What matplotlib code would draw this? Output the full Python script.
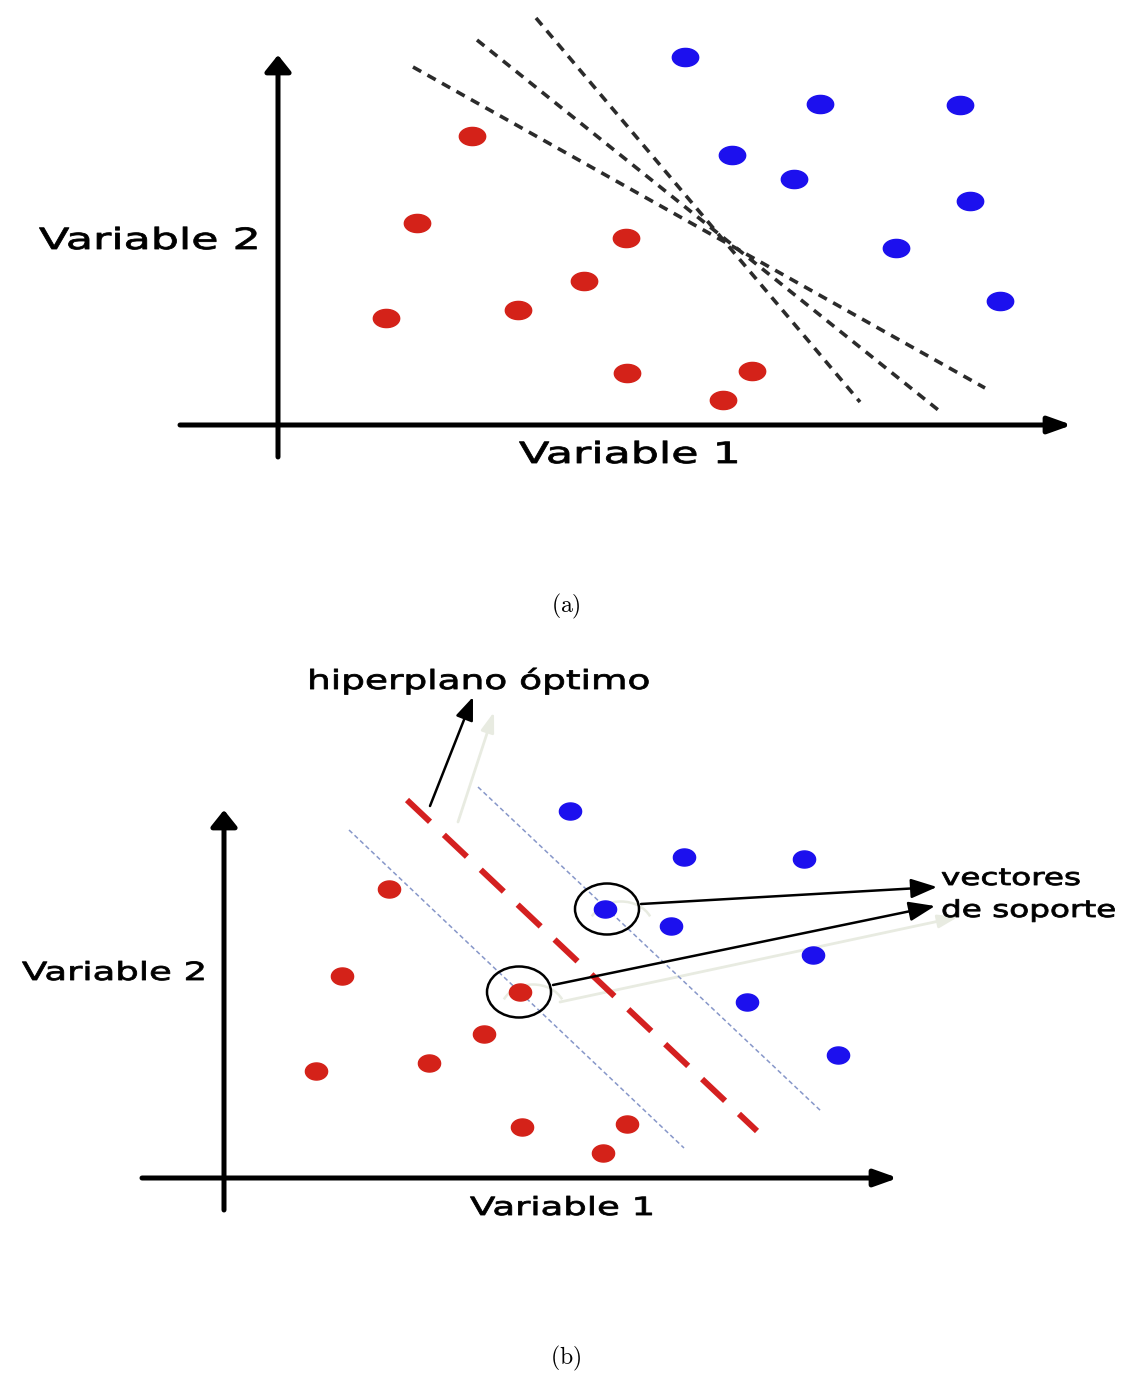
import matplotlib
matplotlib.use("Agg")
import matplotlib.pyplot as plt
from matplotlib.patches import Ellipse, Arc
from matplotlib.path import Path
from matplotlib.patheffects import AbstractPathEffect
from matplotlib.transforms import Affine2D
import numpy as np

plt.rcParams['font.family'] = ['DejaVu Sans']
plt.rcParams['mathtext.fontset'] = 'cm'

# ---- panel (a): several candidate separating lines ----
a_red_x = [472, 417, 626, 584, 386, 518, 627, 752, 723]
a_red_y = [136, 223, 238, 281, 318, 310, 373, 371, 400]
a_blue_x = [685, 820, 960, 732, 794, 970, 896, 1000]
a_blue_y = [57, 104, 105, 155, 179, 201, 248, 301]
a_lines_x = [[413, 985], [477, 942], [536, 860]]
a_lines_y = [[67, 388], [40, 413], [18, 402]]

# ---- panel (b): optimal hyperplane and support vectors ----
b_red_x = [389, 342, 520, 484, 316, 429, 522, 627, 603]
b_red_y = [889, 976, 992, 1034, 1071, 1063, 1127, 1124, 1153]
b_blue_x = [570, 684, 804, 605, 671, 813, 747, 838]
b_blue_y = [811, 857, 859, 909, 926, 955, 1002, 1055]
b_plane_x = [407, 757]
b_plane_y = [800, 1131]
b_margin_x = [[349, 684], [478, 822]]
b_margin_y = [[830, 1148], [787, 1112]]
b_sv_x = [607, 519]
b_sv_y = [909, 992]

labels = ["Variable 1", "Variable 2"]
captions = ["(a)", "(b)"]


class Stretch(AbstractPathEffect):
    # the source picture was stretched sideways, lettering included;
    # a thin stroke gives the slightly heavy look of the blurred original
    def __init__(self, sx, lw=0.6):
        super().__init__()
        self.sx = sx
        self.lw = lw

    def draw_path(self, renderer, gc, tpath, affine, rgbFace=None):
        gc2 = renderer.new_gc()
        gc2.copy_properties(gc)
        gc2.set_linewidth(self.lw)
        gc2.set_foreground(rgbFace)
        renderer.draw_path(gc2, tpath, Affine2D().scale(self.sx, 1) + affine, rgbFace)
        gc2.restore()


def oval(aspect):
    t = np.linspace(0, 2 * np.pi, 40)
    return Path(np.column_stack([aspect * np.cos(t), np.sin(t)]), closed=True)


def arrow(ax, x0, y0, x1, y1, lw, hl, hw, color='black', z=3):
    ax.annotate('', xy=(x1, y1), xytext=(x0, y0),
                arrowprops=dict(arrowstyle='-|>,head_length=%g,head_width=%g' % (hl, hw),
                                lw=lw, color=color, shrinkA=0, shrinkB=0,
                                mutation_scale=1), zorder=z)


RED = '#d42219'
BLUE = '#1c10ee'
GHOST = '#e8ebe1'

fig = plt.figure(figsize=(11.3, 13.73), dpi=100)
ax = fig.add_axes([0, 0, 1, 1])
ax.set_xlim(0, 1130)
ax.set_ylim(1373, 0)
ax.axis('off')

# panel (a)
arrow(ax, 180, 425, 1072, 425, 3.6, 14, 5)
arrow(ax, 278, 457, 278, 55, 3.6, 10, 8)
for xs, ys in zip(a_lines_x, a_lines_y):
    ax.plot(xs, ys, color='#2b2b2b', lw=2.6, dashes=(2.6, 2.0), zorder=2)
ax.plot(a_red_x, a_red_y, ls='none', marker=oval(1.45), ms=19, color=RED, zorder=4)
ax.plot(a_blue_x, a_blue_y, ls='none', marker=oval(1.45), ms=19, color=BLUE, zorder=4)
st = [Stretch(1.52)]
ax.text(39, 249, labels[1], fontsize=21, ha='left', va='baseline', path_effects=st)
ax.text(519, 463, labels[0], fontsize=21, ha='left', va='baseline', path_effects=st)
ax.text(566, 606, '$\\mathrm{%s}$' % captions[0], fontsize=17, ha='center', va='center')

# panel (b)
arrow(ax, 142, 1178, 898, 1178, 3.6, 14, 5)
arrow(ax, 224, 1210, 224, 810, 3.6, 10, 8)
for xs, ys in zip(b_margin_x, b_margin_y):
    ax.plot(xs, ys, color='#8797c9', lw=1.1, dashes=(3, 2), zorder=2)
ax.plot(b_plane_x, b_plane_y, color='#d42020', lw=4.3, dashes=(5.3, 3.2), zorder=2)
ax.plot(b_red_x, b_red_y, ls='none', marker=oval(1.3), ms=16, color=RED, zorder=4)
ax.plot(b_blue_x, b_blue_y, ls='none', marker=oval(1.3), ms=16, color=BLUE, zorder=4)
for cx, cy in zip(b_sv_x, b_sv_y):
    ax.add_patch(Ellipse((cx, cy), 64, 51, fill=False, ec='black', lw=1.8, zorder=5))
    # faint shadow of an older circle
    ax.add_patch(Arc((cx + 14, cy + 18), 64, 51, theta1=200, theta2=340,
                     ec=GHOST, lw=1.8, zorder=1))

# faint leftovers of an older drawing
arrow(ax, 458, 822, 494, 712, 2.0, 12, 4, color=GHOST, z=1)
arrow(ax, 560, 1002, 958, 917, 2.0, 12, 4, color=GHOST, z=1)

arrow(ax, 430, 806, 473, 697, 1.8, 14, 5.5)
arrow(ax, 641, 904, 937, 887, 1.8, 16, 6)
arrow(ax, 553, 985, 935, 906, 1.8, 16, 6)

st = [Stretch(1.4)]
ax.text(22, 980, labels[1], fontsize=18, ha='left', va='baseline', path_effects=[Stretch(1.48)])
ax.text(470, 1215, labels[0], fontsize=18, ha='left', va='baseline', path_effects=[Stretch(1.48)])
ax.text(307, 689, 'hiperplano óptimo', fontsize=19, ha='left', va='baseline', path_effects=[Stretch(1.42)])
ax.text(941, 885, 'vectores', fontsize=16.8, ha='left', va='baseline', path_effects=st)
ax.text(941, 917, 'de soporte', fontsize=16.8, ha='left', va='baseline', path_effects=st)
ax.text(566, 1358, '$\\mathrm{%s}$' % captions[1], fontsize=17, ha='center', va='center')

fig.savefig('out.png', dpi=100)
